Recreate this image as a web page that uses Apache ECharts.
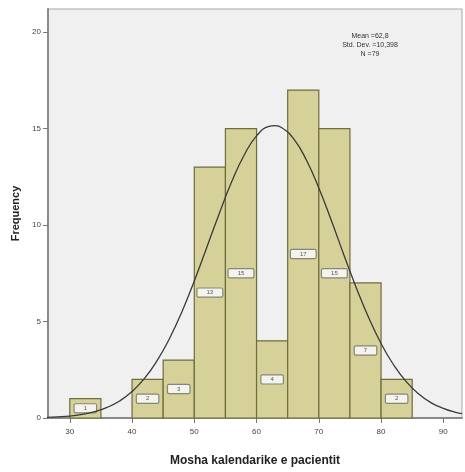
<!DOCTYPE html>
<html>
<head>
<meta charset="utf-8">
<script src="https://cdn.jsdelivr.net/npm/echarts@6/dist/echarts.min.js"></script>
<style>html,body{margin:0;padding:0;background:#fff}#c{width:465px;height:472px}</style>
</head>
<body>
<div id="c"></div>
<script>
// Histogram bins (age, years) and frequencies
const binLower = [30, 35, 40, 45, 50, 55, 60, 65, 70, 75, 80];
const binUpper = [35, 40, 45, 50, 55, 60, 65, 70, 75, 80, 85];
const counts   = [1, 0, 2, 3, 13, 15, 4, 17, 15, 7, 2];

// Normal curve
const curveX = [26, 28, 30, 32, 34, 36, 38, 40, 42, 44, 46, 48, 50, 52, 54, 56, 58, 60, 62, 63, 64, 66, 68, 70, 72, 74, 76, 78, 80, 82, 84, 86, 88, 90, 92, 93];
const curveY = [0.03, 0.06, 0.1, 0.19, 0.33, 0.55, 0.88, 1.37, 2.05, 2.96, 4.11, 5.5, 7.1, 8.84, 10.59, 12.24, 13.62, 14.62, 15.11, 15.15, 15.06, 14.45, 13.37, 11.92, 10.25, 8.48, 6.77, 5.21, 3.86, 2.76, 1.9, 1.26, 0.8, 0.5, 0.29, 0.23];

const xTicks = [30, 40, 50, 60, 70, 80, 90];
const yTicks = [0, 5, 10, 15, 20];
const statsLines = ['Mean =62,8', 'Std. Dev. =10,398', 'N =79'];

const barData = [];
for (let i = 0; i < counts.length; i++) {
  if (counts[i] > 0) barData.push([binLower[i], binUpper[i], counts[i]]);
}
const curveData = curveX.map((x, i) => [x, curveY[i]]);

const chart = echarts.init(document.getElementById('c'), null, {renderer: 'canvas'});
chart.setOption({
  animation: false,
  backgroundColor: '#ffffff',
  grid: {left: 48, top: 9, right: 3, bottom: 48, show: true, backgroundColor: '#f0f0f0', borderColor: '#a8a8a8', borderWidth: 1},
  xAxis: {
    type: 'value', min: 26.5, max: 93,
    name: 'Mosha kalendarike e pacientit', nameLocation: 'middle', nameGap: 37,
    nameTextStyle: {fontFamily: 'Liberation Sans', fontWeight: 'bold', fontSize: 12, color: '#222'},
    axisLine: {show: true, onZero: false, lineStyle: {color: '#8a8a8a', width: 2}},
    axisTick: {show: true, length: 5, customValues: xTicks, lineStyle: {color: '#777'}},
    axisLabel: {customValues: xTicks, fontSize: 8, color: '#444', margin: 10, fontFamily: 'Liberation Sans'},
    splitLine: {show: false}
  },
  yAxis: {
    type: 'value', min: 0, max: 21.2,
    name: 'Frequency', nameLocation: 'middle', nameGap: 25, nameRotate: 90,
    nameTextStyle: {fontFamily: 'Liberation Sans', fontWeight: 'bold', fontSize: 11, color: '#222'},
    axisLine: {show: true, lineStyle: {color: '#8a8a8a', width: 2}},
    axisTick: {show: true, length: 5, customValues: yTicks, lineStyle: {color: '#777'}},
    axisLabel: {customValues: yTicks, fontSize: 8, color: '#444', margin: 7, fontFamily: 'Liberation Sans'},
    splitLine: {show: false}
  },
  series: [
    {
      type: 'custom',
      data: barData,
      encode: {x: [0, 1], y: 2},
      renderItem: function (params, api) {
        const p0 = api.coord([api.value(0), 0]);
        const p1 = api.coord([api.value(1), api.value(2)]);
        return {
          type: 'rect',
          shape: {x: p0[0], y: p1[1], width: p1[0] - p0[0], height: p0[1] - p1[1]},
          style: {fill: '#d5d199', stroke: '#6f6c3e', lineWidth: 1.2},
          textContent: {
            style: {
              text: String(api.value(2)), fontSize: 6, fill: '#555', fontFamily: 'Liberation Sans',
              backgroundColor: '#f4f4ef', borderColor: '#85857a', borderWidth: 1.2, borderRadius: 1,
              padding: [1, 9]
            }
          },
          textConfig: {position: 'inside'}
        };
      },
      z: 2
    },
    {
      type: 'line',
      data: curveData,
      smooth: true,
      showSymbol: false,
      lineStyle: {color: '#3a3a3a', width: 1.3},
      z: 3
    }
  ],
  graphic: statsLines.map((t, i) => ({
    type: 'text', x: 370, y: 33 + i * 9,
    style: {text: t, fontSize: 7, fill: '#333', textAlign: 'center', fontFamily: 'Liberation Sans'},
    z: 10
  }))
});
</script>
</body>
</html>
